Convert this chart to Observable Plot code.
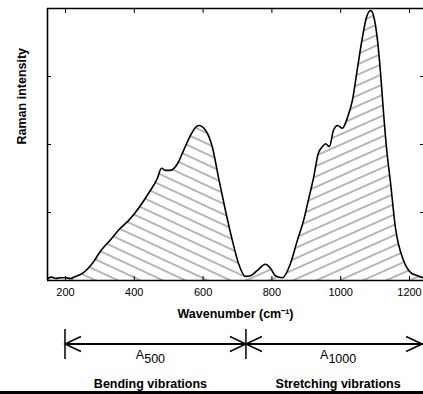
<!DOCTYPE html>
<html><head><meta charset="utf-8">
<script src="https://cdn.jsdelivr.net/npm/d3@7"></script>
<script src="https://cdn.jsdelivr.net/npm/@observablehq/plot@0.6"></script>
<style>html,body{margin:0;background:#fff;overflow:hidden}svg{display:block}</style>
</head><body><div id="chart"></div>
<script>
const wavenumber = [148,160,171,185,200,215,229,244,258,273,285,296,313,331,354,383,412,441,467,479,491,505,526,543,563,578,587,607,627,645,665,685,703,723,738,758,781,796,810,831,854,874,892,906,921,935,947,956,967,979,991,1005,1020,1034,1049,1063,1075,1087,1095,1107,1116,1124,1133,1145,1159,1183,1203,1223,1241];
const intensity  = [0.03,0.05,0.03,0.04,0.04,0.03,0.06,0.09,0.14,0.22,0.30,0.39,0.50,0.60,0.74,0.88,1.06,1.28,1.50,1.65,1.62,1.62,1.72,1.91,2.13,2.25,2.28,2.21,1.96,1.51,1.03,0.59,0.25,0.06,0.07,0.15,0.24,0.18,0.07,0.04,0.25,0.59,0.88,1.18,1.51,1.87,1.97,2.01,1.97,2.21,2.28,2.24,2.40,2.65,3.13,3.57,3.87,3.97,3.90,3.53,3.04,2.50,1.96,1.43,0.78,0.29,0.12,0.07,0.04];
const xTicks = [200,400,600,800,1000,1200];
const yTicks = [1,2,3];
const bandEdges = [200,726,1262];
const bandSymbols = ["A","A"];
const bandSubs = ["500","1000"];
const bandNames = ["Bending vibrations","Stretching vibrations"];
const xLabel = "Wavenumber (cm\u207B\u00B9)";
const yLabel = "Raman intensity";

const FONT = "'Liberation Sans', Arial, Helvetica, sans-serif";
const data = wavenumber.map((w, i) => ({w, v: intensity[i]}));
const split = 723;
const bend = data.filter(d => d.w <= split);
const stretch = data.filter(d => d.w >= split);

function patterns() {
  const g = d3.create("svg:g");
  const defs = g.append("defs");
  [["hatchBend", 25], ["hatchStretch", -24]].forEach(([id, a]) => {
    const p = defs.append("pattern").attr("id", id).attr("patternUnits", "userSpaceOnUse")
      .attr("width", 20).attr("height", 9.5).attr("patternTransform", `rotate(${a})`);
    p.append("line").attr("x1", -1).attr("x2", 21).attr("y1", 4.75).attr("y2", 4.75)
      .attr("stroke", "#3a3a3a").attr("stroke-width", 0.75);
  });
  return g.node();
}

function annotations(index, scales, values, dims) {
  const x = scales.x;
  const base = dims.height - dims.marginBottom;
  const yl = base + 64;
  const g = d3.create("svg:g").attr("font-family", FONT).attr("fill", "black");
  const x0 = x(bandEdges[0]), x1 = x(bandEdges[1]), x2 = x(bandEdges[2]);
  g.append("line").attr("x1", x0).attr("x2", x2).attr("y1", yl).attr("y2", yl)
    .attr("stroke", "black").attr("stroke-width", 2);
  [x0, x1].forEach(px => g.append("line").attr("x1", px).attr("x2", px)
    .attr("y1", yl - 15).attr("y2", yl + 15).attr("stroke", "black").attr("stroke-width", 1.5));
  const head = (tip, dir) => g.append("path")
    .attr("d", `M${tip + dir * 16},${yl - 7.5}L${tip},${yl}L${tip + dir * 16},${yl + 7.5}`)
    .attr("fill", "none").attr("stroke", "black").attr("stroke-width", 1.5);
  head(x0, 1); head(x1, -1); head(x1, 1); head(x(1241) - 1, -1);
  for (let i = 0; i < 2; i++) {
    const cx = (x(bandEdges[i]) + x(bandEdges[i + 1])) / 2 - (i === 0 ? 5 : 0);
    const t = g.append("text").attr("x", cx).attr("y", base + 79).attr("text-anchor", "middle").attr("font-size", 12.5);
    t.append("tspan").text(bandSymbols[i]);
    t.append("tspan").attr("dy", 4).text(bandSubs[i]);
    g.append("text").attr("x", cx).attr("y", base + 108).attr("text-anchor", "middle")
      .attr("font-size", 12.5).attr("font-weight", "bold").text(bandNames[i]);
  }
  g.append("rect").attr("x", 0).attr("y", dims.height - 3).attr("width", dims.width).attr("height", 3).attr("fill", "black");
  return g.node();
}

const chart = Plot.plot({
  width: 423,
  height: 394,
  marginLeft: 47,
  marginRight: 0,
  marginTop: 8,
  marginBottom: 114,
  style: {fontFamily: FONT, background: "white", color: "black"},
  x: {domain: [147.7, 1240.7]},
  y: {domain: [0, 4]},
  marks: [
    patterns,
    Plot.areaY(bend, {x: "w", y: "v", fill: "url(#hatchBend)", curve: "monotone-x"}),
    Plot.areaY(stretch, {x: "w", y: "v", fill: "url(#hatchStretch)", curve: "monotone-x"}),
    Plot.line(data, {x: "w", y: "v", stroke: "black", strokeWidth: 1.6, curve: "monotone-x"}),
    Plot.axisX(xTicks, {anchor: "bottom", tickSize: 0, tickPadding: 8, fontSize: 11, tickFormat: d => String(d), label: null}),
    Plot.axisX(xTicks, {anchor: "bottom", tickSize: -4, tickFormat: () => "", label: null}),
    Plot.axisX(xTicks, {anchor: "top", tickSize: -4, tickFormat: () => "", label: null}),
    Plot.axisY(yTicks, {anchor: "left", tickSize: -4, tickFormat: () => "", label: null}),
    Plot.axisY(yTicks, {anchor: "right", tickSize: -4, tickFormat: () => "", label: null}),
    Plot.ruleX([147.7], {stroke: "black", strokeWidth: 1.6}),
    Plot.ruleY([0, 4], {stroke: "black", strokeWidth: 1.6}),
    Plot.text([xLabel], {frameAnchor: "bottom", dy: 33, fontSize: 12.5, fontWeight: "bold", lineAnchor: "middle"}),
    Plot.text([yLabel], {frameAnchor: "left", dx: -26, rotate: -90, fontSize: 12.5, fontWeight: "bold", lineAnchor: "middle"}),
    annotations
  ]
});
document.getElementById("chart").appendChild(chart);
</script>
</body></html>
